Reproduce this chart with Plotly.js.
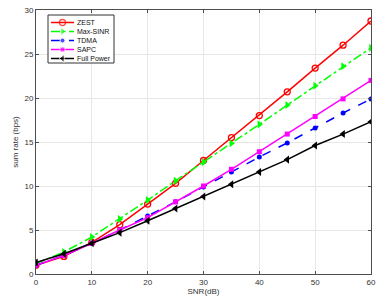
<!DOCTYPE html>
<html><head><meta charset="utf-8">
<script src="https://cdn.plot.ly/plotly-3.0.1.min.js"></script>
<style>html,body{margin:0;padding:0;background:#fff;}#plot{width:382px;height:304px;}</style>
</head><body><div id="plot"></div>
<script>
const snr = [0, 5, 10, 15, 20, 25, 30, 35, 40, 45, 50, 55, 60];
const zest = [1.0, 2.0, 3.6, 5.6, 7.95, 10.3, 12.9, 15.5, 18.0, 20.7, 23.4, 26.0, 28.75];
const maxSinr = [1.2, 2.5, 4.2, 6.25, 8.4, 10.6, 12.7, 14.85, 17.0, 19.2, 21.4, 23.6, 25.7];
const tdma = [1.0, 2.1, 3.5, 5.0, 6.6, 8.2, 9.9, 11.6, 13.3, 14.9, 16.6, 18.3, 19.9];
const sapc = [1.0, 2.1, 3.5, 5.0, 6.4, 8.2, 10.0, 11.9, 13.9, 15.9, 17.9, 19.9, 22.0];
const fullPower = [1.3, 2.3, 3.5, 4.7, 6.05, 7.45, 8.8, 10.2, 11.6, 13.0, 14.6, 15.9, 17.3];
const seriesNames = ['ZEST', 'Max-SINR', 'TDMA', 'SAPC', 'Full Power'];
const xTicks = [0, 10, 20, 30, 40, 50, 60];
const yTicks = [0, 5, 10, 15, 20, 25, 30];

const styles = [
  {line:{color:'#ff0000', width:1.5, dash:'solid'}, marker:{symbol:'circle-open', size:6, color:'#ff0000', line:{width:1.3, color:'#ff0000'}}},
  {line:{color:'#00ff00', width:1.5, dash:'dashdot'}, marker:{symbol:'triangle-right', size:7, color:'#00ff00'}},
  {line:{color:'#0000ff', width:1.5, dash:'dash'}, marker:{symbol:'circle', size:5, color:'#0000ff'}},
  {line:{color:'#ff00ff', width:1.5, dash:'solid'}, marker:{symbol:'square', size:5, color:'#ff00ff'}},
  {line:{color:'#000000', width:1.5, dash:'solid'}, marker:{symbol:'triangle-left', size:7, color:'#000000'}}
];
const values = [zest, maxSinr, tdma, sapc, fullPower];

const traces = values.map((v, i) => Object.assign({x: snr, y: v, name: seriesNames[i], type:'scatter', mode:'lines+markers', showlegend:false}, styles[i]));

// custom compact legend drawn on an overlay axis measured in pixels
const legLeft = 48, legRight = 114, legTop = 15, legBottom = 63;
const legRows = [22.5, 31.5, 40.5, 49.5, 58.5];
const lineX0 = 51, lineX1 = 74, textX = 76;
traces.push({x:[legLeft, legRight, legRight, legLeft, legLeft], y:[legTop, legTop, legBottom, legBottom, legTop],
  xaxis:'x2', yaxis:'y2', type:'scatter', mode:'lines', fill:'toself', fillcolor:'#ffffff',
  line:{color:'#333', width:1}, showlegend:false, hoverinfo:'skip'});
const annotations = [];
values.forEach((v, i) => {
  const yy = legRows[i];
  const m = Object.assign({}, styles[i].marker, {size: [0, styles[i].marker.size, 0]});
  traces.push({x:[lineX0, (lineX0+lineX1)/2, lineX1], y:[yy, yy, yy], xaxis:'x2', yaxis:'y2', type:'scatter', mode:'lines+markers',
    showlegend:false, hoverinfo:'skip', line: styles[i].line, marker: m});
  annotations.push({xref:'x2', yref:'y2', x:textX, y:yy, text:seriesNames[i], showarrow:false, xanchor:'left', yanchor:'middle',
    xshift:-1, font:{family:'Liberation Sans, Arial, sans-serif', size:7, color:'#111'}});
});

const axisCommon = {
  showline:true, mirror:'ticks', linecolor:'#4d4d4d', linewidth:1,
  ticks:'inside', ticklen:3, tickcolor:'#4d4d4d',
  showgrid:true, gridcolor:'#e6e6e6', gridwidth:1, zeroline:false,
  tickfont:{family:'Liberation Sans, Arial, sans-serif', size:8, color:'#333'}
};
const layout = {
  width:382, height:304,
  margin:{l:36, r:11, t:10, b:30},
  paper_bgcolor:'#fff', plot_bgcolor:'#fff',
  font:{family:'Liberation Sans, Arial, sans-serif', size:8, color:'#333'},
  xaxis: Object.assign({}, axisCommon, {range:[0,60], tickvals:xTicks, ticktext:xTicks.map(String),
    title:{text:'SNR(dB)', standoff:2, font:{size:8, color:'#333'}}}),
  yaxis: Object.assign({}, axisCommon, {range:[0,30], tickvals:yTicks, ticktext:yTicks.map(String),
    title:{text:'sum rate (bps)', standoff:4, font:{size:8, color:'#333'}}}),
  xaxis2:{overlaying:'x', range:[36,371], visible:false, fixedrange:true},
  yaxis2:{overlaying:'y', range:[274,10], visible:false, fixedrange:true},
  annotations: annotations,
  showlegend:false
};
Plotly.newPlot('plot', traces, layout, {displayModeBar:false, staticPlot:true});
</script></body></html>
